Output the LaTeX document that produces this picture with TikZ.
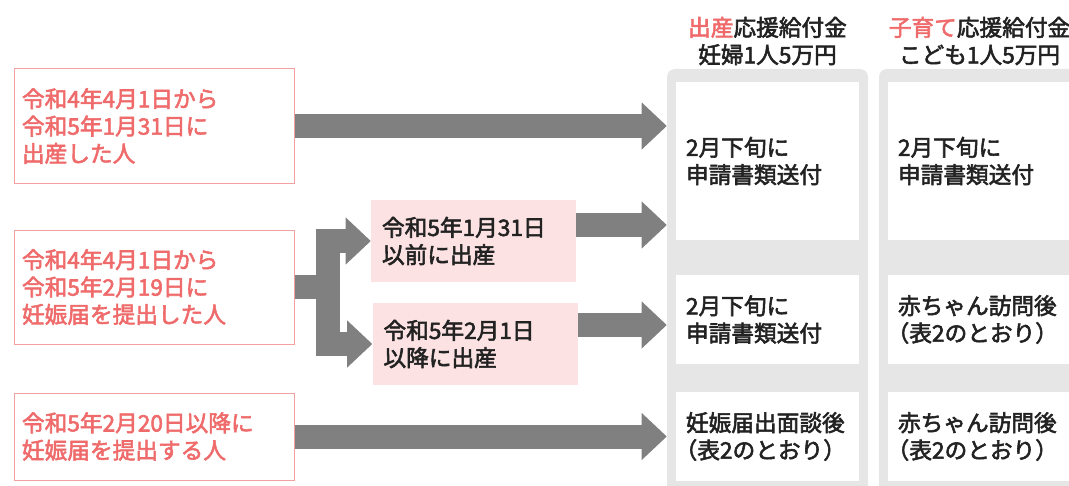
\documentclass[tikz,border=0pt]{standalone}
\usepackage{fontspec}
\setmainfont{Noto Sans CJK JP}[FakeBold=2.5]
\usetikzlibrary{arrows.meta}
\definecolor{salmon}{HTML}{EF6B6B}
\definecolor{salmonline}{HTML}{F4A0A0}
\definecolor{pinkfill}{HTML}{FCE2E2}
\definecolor{panelgray}{HTML}{E6E6E6}
\definecolor{arrowgray}{HTML}{808080}
\definecolor{ink}{HTML}{222222}
\newcommand{\hyo}{\hspace*{-0.5em}（表2のとおり）}
\tikzstyle{txt} = [font=\fontsize{17pt}{20.5pt}\selectfont]
\tikzstyle{who} = [txt, draw=salmonline, line width=0.75pt, text=salmon, minimum width=210pt, text width=198pt, inner xsep=6pt, align=left]
\tikzstyle{when} = [txt, fill=pinkfill, text=ink, minimum width=153.75pt, text width=137.25pt, inner xsep=8.25pt, minimum height=61.5pt, align=left]
\tikzstyle{panel} = [fill=panelgray, rounded corners=6pt, minimum width=150.75pt, minimum height=324pt, inner sep=0pt]
\tikzstyle{cell} = [txt, fill=white, text=ink, minimum width=137.25pt, text width=122.25pt, inner xsep=7.5pt, align=left]
\tikzstyle{head} = [txt, text=ink, align=center]
\tikzstyle{blk} = [draw=arrowgray, line width=18pt, -{Triangle[length=18.75pt, width=35.25pt, line width=0pt]}]

\begin{document}
\begin{tikzpicture}[x=0.75pt, y=-0.75pt]
  \useasboundingbox (0,0) rectangle (1069,485);
  \clip (0,0) rectangle (1069,485);
  % columns on the right
  \node (h1) at (767.5,41) [head] {\textcolor{salmon}{出産}応援給付金\\妊婦1人5万円};
  \node (h2) at (979.5,41) [head] {\textcolor{salmon}{子育て}応援給付金\\こども1人5万円};
  \node (pan1) at (767.5,285) [panel] {};
  \node (pan2) at (979.5,285) [panel] {};
  \node (s1) at (767.5,161) [cell, minimum height=118.5pt] {2月下旬に\\申請書類送付};
  \node (s2) at (767.5,319.5) [cell, minimum height=66.75pt] {2月下旬に\\申請書類送付};
  \node (s3) at (767.5,436.5) [cell, minimum height=66.75pt] {妊娠届出面談後\\\hyo};
  \node (k1) at (979.5,161) [cell, minimum height=118.5pt] {2月下旬に\\申請書類送付};
  \node (k2) at (979.5,319.5) [cell, minimum height=66.75pt] {赤ちゃん訪問後\\\hyo};
  \node (k3) at (979.5,436.5) [cell, minimum height=66.75pt] {赤ちゃん訪問後\\\hyo};
  % who
  \node (a) at (154,126) [who, minimum height=85.5pt] {令和4年4月1日から\\令和5年1月31日に\\出産した人};
  \node (b) at (154,287) [who, minimum height=85.5pt] {令和4年4月1日から\\令和5年2月19日に\\妊娠届を提出した人};
  \node (c) at (154,436.5) [who, minimum height=65.25pt] {令和5年2月20日以降に\\妊娠届を提出する人};
  \node (p1) at (473.5,241) [when] {令和5年1月31日\\以前に出産};
  \node (p2) at (475,344) [when] {令和5年2月1日\\以降に出産};
  \coordinate (fork) at (328,287);
  % arrows
  \draw [blk] (a.east) -- (a.east -| pan1.west);
  \draw [draw=arrowgray, line width=18pt] (b.east) -- (fork);
  \draw [blk] (fork) |- (p1.west);
  \draw [blk] (fork) |- (p2.west);
  \draw [blk] ([yshift=12pt]p1.east) -- ([yshift=12pt]p1.east -| pan1.west);
  \draw [blk] ([yshift=14.25pt]p2.east) -- ([yshift=14.25pt]p2.east -| pan1.west);
  \draw [blk] (c.east) -- (c.east -| pan1.west);
\end{tikzpicture}
\end{document}
